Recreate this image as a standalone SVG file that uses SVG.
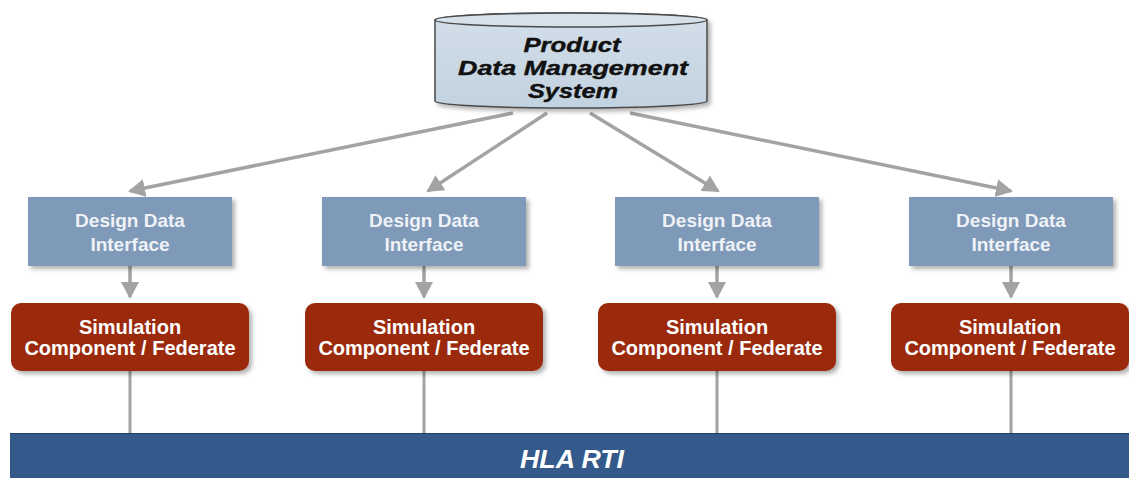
<svg xmlns="http://www.w3.org/2000/svg" width="1129" height="478" viewBox="0 0 1129 478">
<defs>
<style>
.dd{fill:#7f99b8;filter:url(#sh)}
.sim{fill:#9b2c0c;filter:url(#sh)}
.ddt{font-family:"Liberation Sans",Arial,sans-serif;font-weight:bold;font-size:19px;fill:#eef2f7;text-anchor:middle}
.simt{font-family:"Liberation Sans",Arial,sans-serif;font-weight:bold;font-size:20px;fill:#ffffff;text-anchor:middle}
.cylt{font-family:"Liberation Sans",Arial,sans-serif;font-weight:bold;font-style:italic;font-size:20px;fill:#111111;text-anchor:middle;stroke:#111111;stroke-width:0.4}
.hlat{font-family:"Liberation Sans",Arial,sans-serif;font-weight:bold;font-style:italic;font-size:25px;fill:#ffffff;text-anchor:middle}
.arr{stroke:#a3a3a3;stroke-width:3.5;fill:none;marker-end:url(#ah)}
.ln{stroke:#a3a3a3;stroke-width:3;fill:none}
</style>
<marker id="ah" markerUnits="userSpaceOnUse" markerWidth="17" markerHeight="18" refX="15" refY="9" orient="auto" viewBox="0 0 17 18">
<path d="M0,0 L17,9 L0,18 Z" fill="#a3a3a3"/>
</marker>
<filter id="sh" x="-10%" y="-10%" width="130%" height="140%">
<feDropShadow dx="3" dy="3" stdDeviation="2" flood-color="#000" flood-opacity="0.3"/>
</filter>
<linearGradient id="cg" x1="0" y1="0" x2="0" y2="1">
<stop offset="0" stop-color="#d3dfe9"/>
<stop offset="1" stop-color="#c2d2df"/>
</linearGradient>
</defs>
<rect width="1129" height="478" fill="#ffffff"/>

<g id="connectors">
<path class="arr" d="M513,113 L130,191"/>
<path class="arr" d="M547,113 L428,191"/>
<path class="arr" d="M590,113 L718,191"/>
<path class="arr" d="M630,113 L1011,191"/>
<path class="arr" d="M130,266 L130,297"/>
<path class="arr" d="M424,266 L424,297"/>
<path class="arr" d="M717,266 L717,297"/>
<path class="arr" d="M1011,266 L1011,297"/>
<path class="ln" d="M130,371 L130,433"/>
<path class="ln" d="M424,371 L424,433"/>
<path class="ln" d="M717,371 L717,433"/>
<path class="ln" d="M1011,371 L1011,433"/>
</g>

<g id="pdm">
<path d="M435,20 L435,101 A136,7 0 0 0 707,101 L707,20 A136,7 0 0 0 435,20 Z" fill="url(#cg)" stroke="#4a4a4a" stroke-width="1.5" filter="url(#sh)"/>
<ellipse cx="571" cy="20" rx="136" ry="7" fill="#d6e1ea" stroke="#4a4a4a" stroke-width="1.5"/>
<text class="cylt" x="572" y="52" textLength="97" lengthAdjust="spacingAndGlyphs">Product</text>
<text class="cylt" x="573" y="75" textLength="230" lengthAdjust="spacingAndGlyphs">Data Management</text>
<text class="cylt" x="573" y="98" textLength="90" lengthAdjust="spacingAndGlyphs">System</text>
</g>

<g id="dd1"><rect class="dd" x="28" y="197" width="204" height="69"/><text class="ddt" x="130" y="227">Design Data</text><text class="ddt" x="130" y="251">Interface</text></g>
<g id="dd2"><rect class="dd" x="322" y="197" width="204" height="69"/><text class="ddt" x="424" y="227">Design Data</text><text class="ddt" x="424" y="251">Interface</text></g>
<g id="dd3"><rect class="dd" x="615" y="197" width="204" height="69"/><text class="ddt" x="717" y="227">Design Data</text><text class="ddt" x="717" y="251">Interface</text></g>
<g id="dd4"><rect class="dd" x="909" y="197" width="204" height="69"/><text class="ddt" x="1011" y="227">Design Data</text><text class="ddt" x="1011" y="251">Interface</text></g>

<g id="sim1"><rect class="sim" x="11" y="303" width="238" height="68" rx="10"/><text class="simt" x="130" y="334">Simulation</text><text class="simt" x="130" y="355">Component / Federate</text></g>
<g id="sim2"><rect class="sim" x="305" y="303" width="238" height="68" rx="10"/><text class="simt" x="424" y="334">Simulation</text><text class="simt" x="424" y="355">Component / Federate</text></g>
<g id="sim3"><rect class="sim" x="598" y="303" width="238" height="68" rx="10"/><text class="simt" x="717" y="334">Simulation</text><text class="simt" x="717" y="355">Component / Federate</text></g>
<g id="sim4"><rect class="sim" x="891" y="303" width="238" height="68" rx="10"/><text class="simt" x="1010" y="334">Simulation</text><text class="simt" x="1010" y="355">Component / Federate</text></g>

<g id="hla">
<rect x="10" y="433" width="1119" height="45" fill="#34598b"/>
<line x1="10" y1="433.5" x2="1129" y2="433.5" stroke="#22406a" stroke-width="1"/>
<text class="hlat" x="572" y="468" textLength="104" lengthAdjust="spacingAndGlyphs">HLA RTI</text>
</g>
</svg>
